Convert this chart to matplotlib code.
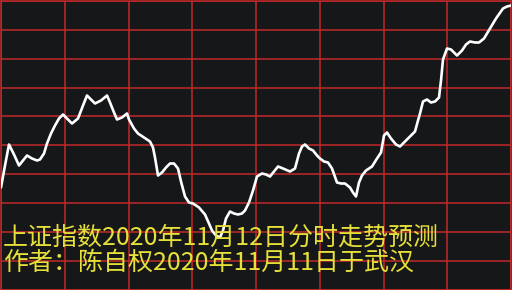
import numpy as np
import matplotlib
matplotlib.use("Agg")
import matplotlib.pyplot as plt

# traced curve, x = horizontal position, y = height above bottom (pixel units)
pos = [1, 5, 9, 14, 19, 23, 27, 32, 37, 40, 44, 47, 51, 55, 59, 63, 67, 72, 78, 83,
       87, 91, 95, 101, 107, 110, 114, 117, 122, 127, 129, 134, 138, 144, 150, 153,
       155, 158, 162, 166, 170, 174, 178, 181, 185, 189, 193, 199, 205, 209, 212,
       216, 220, 223, 226, 230, 234, 238, 242, 245, 249, 253, 257, 262, 266, 270,
       274, 278, 283, 290, 295, 299, 302, 305, 309, 313, 317, 320, 324, 328, 332,
       337, 341, 345, 350, 353, 356, 359, 362, 366, 372, 377, 381, 384, 387, 391,
       396, 400, 405, 410, 415, 418, 420, 423, 427, 431, 435, 439, 441, 443, 447,
       451, 457, 462, 466, 470, 475, 479, 484, 490, 496, 503, 507, 511]
level = [103, 125, 146, 136, 125, 130, 135, 132, 130, 131, 137, 147, 157, 165, 172, 176,
         172, 167, 172, 185, 195, 191, 187, 190, 195, 188, 178, 171, 173, 177, 171,
         162, 157, 153, 149, 143, 133, 115, 118, 123, 127, 127, 122, 109, 94, 88,
         87, 83, 76, 67, 60, 55, 53, 60, 72, 79, 77, 76, 77, 80, 88, 100, 114, 117,
         116, 114, 119, 124, 122, 119, 122, 137, 144, 146, 142, 140, 135, 132, 129,
         128, 122, 108, 107, 107, 103, 98, 94, 108, 115, 120, 124, 132, 138, 155,
         158, 152, 146, 144, 149, 154, 159, 170, 177, 189, 191, 188, 189, 193, 210,
         231, 242, 241, 235, 240, 246, 249, 248, 248, 252, 262, 272, 282, 284, 285]

title_lines = ["上证指数2020年11月12日分时走势预测",
               "作者：陈自权2020年11月11日于武汉"]

bg = "#161719"
red = "#c0282a"

fig = plt.figure(figsize=(5.12, 2.9), dpi=100, facecolor=bg)
ax = fig.add_axes([1 / 512, 0.5 / 290, 510 / 512, 288.5 / 290])
ax.set_facecolor(bg)
ax.set_xlim(1, 511)
ax.set_ylim(1, 289.5)
ax.set_xticks(np.linspace(1, 511, 9))
ax.set_yticks(np.linspace(1, 289.5, 11))
ax.grid(True, color=red, linewidth=1.1)
ax.tick_params(length=0, labelbottom=False, labelleft=False)
for s in ax.spines.values():
    s.set_color(red)
    s.set_linewidth(1.1)

ax.plot(pos, level, color="white", linewidth=1.9, solid_joinstyle="round",
        solid_capstyle="round", zorder=3)

for i, t in enumerate(title_lines):
    fig.text(3 / 512, 1 - (238 + 25 * i) / 290, t, color="#e6e03a",
             fontsize=18, va="center", ha="left",
             family=["Noto Sans CJK SC", "DejaVu Sans"])

fig.savefig("out.png", dpi=100, facecolor=bg)
